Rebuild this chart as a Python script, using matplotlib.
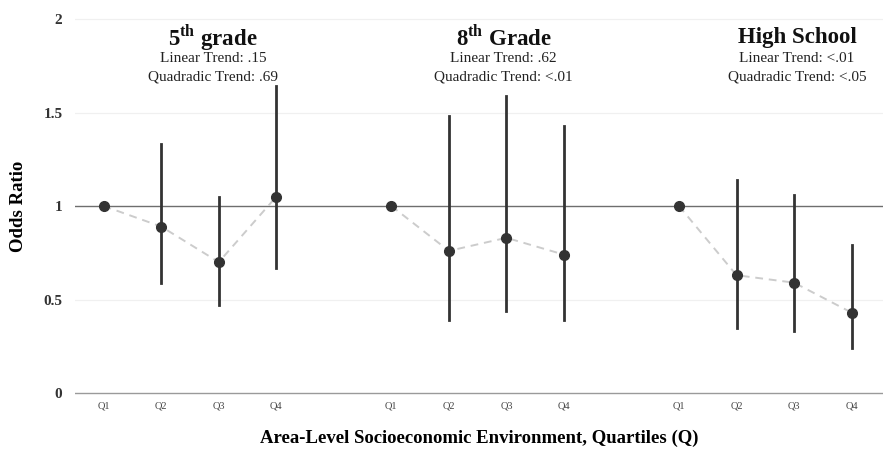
import matplotlib
matplotlib.use("Agg")
import matplotlib.pyplot as plt
import numpy as np

# ---- Data -----------------------------------------------------------------
quartiles = ["Q1", "Q2", "Q3", "Q4"]
groups = ["5$^{\\mathbf{th}}$ grade", "8$^{\\mathbf{th}}$ Grade", "High School"]
linear_p = [".15", ".62", "<.01"]
quad_p = [".69", "<.01", "<.05"]

or_5th = [1.00, 0.89, 0.70, 1.05]
lo_5th = [1.00, 0.59, 0.47, 0.67]
hi_5th = [1.00, 1.33, 1.05, 1.64]

or_8th = [1.00, 0.76, 0.83, 0.74]
lo_8th = [1.00, 0.39, 0.44, 0.39]
hi_8th = [1.00, 1.48, 1.59, 1.43]

or_hs = [1.00, 0.63, 0.59, 0.43]
lo_hs = [1.00, 0.35, 0.33, 0.24]
hi_hs = [1.00, 1.14, 1.06, 0.79]

# ---- Style ----------------------------------------------------------------
plt.rcParams["font.family"] = ["Liberation Serif", "DejaVu Serif"]
plt.rcParams["mathtext.fontset"] = "custom"
plt.rcParams["mathtext.rm"] = "Liberation Serif:bold"
plt.rcParams["mathtext.bf"] = "Liberation Serif:bold"

fig = plt.figure(figsize=(8.85, 4.5), dpi=100)
ax = fig.add_axes([0.0847, 0.1142, 0.9133, 0.856])

series = [(or_5th, lo_5th, hi_5th), (or_8th, lo_8th, hi_8th), (or_hs, lo_hs, hi_hs)]
dark = "#333333"

# light gridlines
for g in [0.5, 1.5, 2.0]:
    ax.axhline(g, color="#f0f0f0", lw=0.9, zorder=0)
ax.axhline(0, color="#9a9a9a", lw=1.0, zorder=1)
ax.axhline(1, color="#6e6e6e", lw=1.0, zorder=1)

xticks, xlabels = [], []
for i, (vals, lo, hi) in enumerate(series):
    x = np.arange(4) + i * 5
    xticks += list(x)
    xlabels += quartiles
    ax.plot(x, vals, ls=(0, (4, 3)), color="#cccccc", lw=1.4, zorder=2)
    for xi, l, h in zip(x, lo, hi):
        if h > l:
            ax.plot([xi, xi], [l, h], color=dark, lw=2.0, zorder=3)
    ax.plot(x, vals, "o", color=dark, ms=7, zorder=4)

    cx = [1.9, 6.95, 12.05][i]
    ax.text(cx, 1.90, groups[i], ha="center", va="center",
            fontsize=16.5, fontweight="bold", color="#111111")
    ax.text(cx, 1.79, f"Linear Trend: {linear_p[i]}", ha="center", va="center",
            fontsize=11, color="#222222")
    ax.text(cx, 1.69, f"Quadradic Trend: {quad_p[i]}", ha="center", va="center",
            fontsize=11, color="#222222")

ax.set_xlim(-0.5, 13.55)
ax.set_ylim(-0.03, 2.03)
ax.set_xticks(xticks)
ax.set_xticklabels(xlabels, fontsize=7.5, color="#444444")
ax.set_yticks([0, 0.5, 1, 1.5, 2])
ax.set_yticklabels(["0", "0.5", "1", "1.5", "2"], fontsize=11,
                   fontweight="bold", color="#333333")
ax.tick_params(axis="x", length=0, pad=2)
ax.tick_params(axis="y", length=0, pad=9)
for s in ax.spines.values():
    s.set_visible(False)

ax.set_ylabel("Odds Ratio", fontsize=13.5, fontweight="bold", labelpad=12)
ax.set_xlabel("Area-Level Socioeconomic Environment, Quartiles (Q)",
              fontsize=13.5, fontweight="bold", labelpad=14)

fig.savefig("out.png", dpi=100)
